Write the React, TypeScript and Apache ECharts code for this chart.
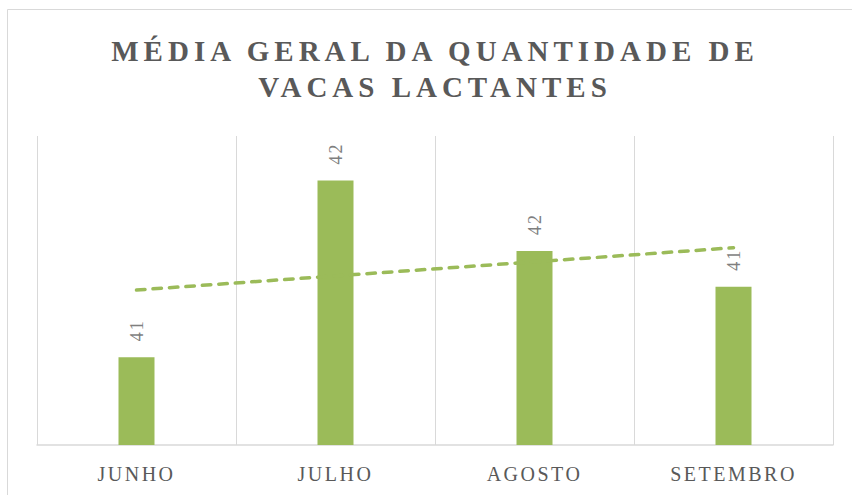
import React, { useEffect, useRef } from "react";
import * as echarts from "echarts";

const titleLines = ["MÉDIA GERAL DA QUANTIDADE DE", "VACAS LACTANTES"];
const categories = ["JUNHO", "JULHO", "AGOSTO", "SETEMBRO"];
const values = [40.71, 42.14, 41.57, 41.28];

function linearTrend(v: number[]): number[] {
  const n = v.length;
  const xs = v.map((_, i) => i + 1);
  const mx = xs.reduce((a, b) => a + b, 0) / n;
  const my = v.reduce((a, b) => a + b, 0) / n;
  let num = 0;
  let den = 0;
  for (let i = 0; i < n; i++) {
    num += (xs[i] - mx) * (v[i] - my);
    den += (xs[i] - mx) * (xs[i] - mx);
  }
  const b = num / den;
  const a = my - b * mx;
  return xs.map((x) => +(a + b * x).toFixed(4));
}

const trend = linearTrend(values);

export default function App() {
  const ref = useRef<HTMLDivElement>(null);
  useEffect(() => {
    if (!ref.current) return;
    const chart = echarts.init(ref.current, undefined, { renderer: "svg" });
    const green = "#9BBB59";
    chart.setOption({
      animation: false,
      backgroundColor: "#ffffff",
      graphic: [
        {
          type: "rect",
          shape: { x: 7.5, y: 9.5, width: 900, height: 600 },
          style: { fill: "none", stroke: "#d9d9d9", lineWidth: 1 },
          silent: true,
        },
      ],
      title: {
        text: titleLines.join("\n"),
        left: 430,
        top: 28,
        textAlign: "center",
        textStyle: {
          fontFamily: "'Liberation Serif', 'Times New Roman', serif",
          fontWeight: "bold",
          fontSize: 29,
          lineHeight: 36,
          color: "#595959",
        },
      },
      grid: { left: 37, right: 19, top: 136, bottom: 50 },
      xAxis: {
        type: "category",
        data: categories,
        boundaryGap: true,
        axisLine: { show: true, lineStyle: { color: "#d9d9d9", width: 1.5 } },
        axisTick: { show: false },
        splitLine: { show: true, interval: 0, lineStyle: { color: "#d9d9d9", width: 1 } },
        axisLabel: {
          interval: 0,
          margin: 19,
          color: "#595959",
          fontSize: 20,
          fontFamily: "'Liberation Serif', 'Times New Roman', serif",
        },
      },
      yAxis: {
        type: "value",
        min: 40,
        max: 42.5,
        show: false,
      },
      series: [
        {
          type: "bar",
          data: values,
          barWidth: 36,
          itemStyle: { color: green },
          label: {
            show: true,
            position: "top",
            rotate: 90,
            align: "left",
            verticalAlign: "middle",
            distance: 16,
            color: "#7f7f7f",
            fontSize: 18,
            fontFamily: "'Liberation Serif', 'Times New Roman', serif",
            formatter: (p: any) => String(Math.round(p.value)),
          },
        },
        {
          type: "line",
          data: trend,
          symbol: "none",
          silent: true,
          lineStyle: { color: green, width: 3.5, type: [8.5, 8], cap: "round" },
          z: 3,
        },
      ],
    });
    const apply = () => {
      const dom = ref.current;
      if (!dom) return;
      dom.querySelectorAll("text").forEach((t) => {
        const s = (t.textContent || "").trim();
        if (s.includes("MÉDIA") || s.includes("VACAS")) {
          t.setAttribute("letter-spacing", "5");
        } else if (categories.includes(s)) {
          t.setAttribute("letter-spacing", "2.5");
        } else if (/^\d+$/.test(s)) {
          t.setAttribute("letter-spacing", "2");
        }
      });
    };
    apply();
    chart.on("finished", apply);
    const timer = setTimeout(apply, 50);
    return () => {
      clearTimeout(timer);
      chart.dispose();
    };
  }, []);
  return (
    <div
      ref={ref}
      style={{ position: "fixed", left: 0, top: 0, width: 852, height: 495, background: "#fff" }}
    />
  );
}
